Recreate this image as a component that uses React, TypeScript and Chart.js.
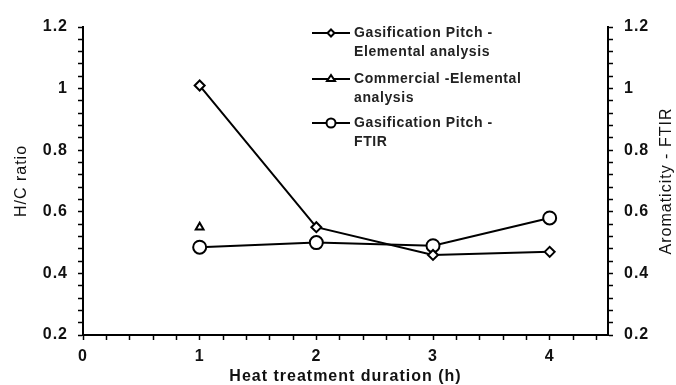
import React, { useEffect, useRef } from "react";
import { Chart, registerables } from "chart.js";

Chart.register(...registerables);

// ---- data ----
const hours = [1, 2, 3, 4];
const pitchElemental = [1.01, 0.55, 0.46, 0.47];
const commercialHours = [1];
const commercialElemental = [0.55];
const pitchFTIR = [0.485, 0.5, 0.49, 0.58];
const seriesLabels = [
  ["Gasification Pitch -", "Elemental analysis"],
  ["Commercial -Elemental", "analysis"],
  ["Gasification Pitch -", "FTIR"],
];
const xTitle = "Heat treatment duration (h)";
const yLeftTitle = "H/C ratio";
const yRightTitle = "Aromaticity - FTIR";

const FONT = "'Liberation Sans', Arial, sans-serif";
const INK = "#111";

function drawMarker(ctx: CanvasRenderingContext2D, style: string, x: number, y: number, r: number) {
  ctx.beginPath();
  if (style === "rectRot") {
    ctx.moveTo(x, y - r);
    ctx.lineTo(x + r, y);
    ctx.lineTo(x, y + r);
    ctx.lineTo(x - r, y);
    ctx.closePath();
  } else if (style === "triangle") {
    const h = r * 1.5;
    ctx.moveTo(x, y - h * 0.66);
    ctx.lineTo(x + r, y + h * 0.34);
    ctx.lineTo(x - r, y + h * 0.34);
    ctx.closePath();
  } else {
    ctx.arc(x, y, r, 0, Math.PI * 2);
  }
  ctx.fillStyle = "#fff";
  ctx.fill();
  ctx.stroke();
}

const customPlugin = {
  id: "custom",
  beforeDraw(chart: any) {
    (chart.ctx as any).letterSpacing = "1px";
  },
  afterDraw(chart: any) {
    const ctx: CanvasRenderingContext2D = chart.ctx;
    ctx.save();
    (ctx as any).letterSpacing = "1px";
    // right axis title (reads bottom to top)
    const area = chart.chartArea;
    ctx.translate(667, (area.top + area.bottom) / 2);
    ctx.rotate(-Math.PI / 2);
    ctx.font = `16px ${FONT}`;
    ctx.fillStyle = INK;
    ctx.textAlign = "center";
    ctx.textBaseline = "middle";
    ctx.fillText(yRightTitle, 0, 0);
    ctx.restore();

    // legend
    ctx.save();
    (ctx as any).letterSpacing = "0.6px";
    const rows = [33, 79, 123];
    const styles = ["rectRot", "triangle", "circle"];
    const radii = [3.5, 4, 4.5];
    chart.data.datasets.forEach((ds: any, i: number) => {
      const y = rows[i];
      ctx.strokeStyle = "#000";
      ctx.lineWidth = 2;
      ctx.beginPath();
      ctx.moveTo(312, y);
      ctx.lineTo(350, y);
      ctx.stroke();
      drawMarker(ctx, styles[i], 331, y, radii[i]);
      ctx.font = `bold 14px ${FONT}`;
      ctx.fillStyle = "#222";
      ctx.textAlign = "left";
      ctx.textBaseline = "middle";
      seriesLabels[i].forEach((line, k) => {
        ctx.fillText(line, 354, y + k * 19);
      });
    });
    ctx.restore();
  },
};

const tickFont = { family: FONT, size: 16, weight: "bold" as const };

function yAxis(position: "left" | "right", width: number, pad: number) {
  return {
    type: "linear" as const,
    position,
    min: 0.2,
    max: 1.2,
    afterFit: (s: any) => {
      s.width = width;
    },
    border: { display: true, color: "#000", width: 2 },
    grid: {
      drawOnChartArea: false,
      drawTicks: true,
      tickLength: 5,
      tickColor: "#000",
      tickWidth: 1.5,
    },
    ticks: {
      stepSize: 0.04,
      autoSkip: false,
      padding: pad,
      color: INK,
      font: tickFont,
      callback: (v: any) => {
        const n = Number(v);
        if (Math.abs(n * 5 - Math.round(n * 5)) < 1e-6) return String(Math.round(n * 10) / 10);
        return "";
      },
    },
  };
}

export default function App() {
  const ref = useRef<HTMLCanvasElement | null>(null);
  useEffect(() => {
    if (!ref.current) return;
    const chart = new Chart(ref.current, {
      type: "line",
      data: {
        datasets: [
          {
            label: seriesLabels[0].join(" "),
            data: hours.map((h, i) => ({ x: h, y: pitchElemental[i] })),
            yAxisID: "y",
            borderColor: "#000",
            borderWidth: 2,
            pointStyle: "rectRot",
            pointRadius: 5,
            pointBorderWidth: 2,
            pointBackgroundColor: "#fff",
            pointBorderColor: "#000",
            tension: 0,
          },
          {
            label: seriesLabels[1].join(" "),
            data: commercialHours.map((h, i) => ({ x: h, y: commercialElemental[i] })),
            yAxisID: "y",
            showLine: false,
            borderColor: "#000",
            pointStyle: "triangle",
            pointRadius: 4.5,
            pointBorderWidth: 2,
            pointBackgroundColor: "#fff",
            pointBorderColor: "#000",
          },
          {
            label: seriesLabels[2].join(" "),
            data: hours.map((h, i) => ({ x: h, y: pitchFTIR[i] })),
            yAxisID: "y2",
            borderColor: "#000",
            borderWidth: 2,
            pointStyle: "circle",
            pointRadius: 6.5,
            pointBorderWidth: 2,
            pointBackgroundColor: "#fff",
            pointBorderColor: "#000",
            tension: 0,
          },
        ],
      },
      options: {
        responsive: false,
        animation: false,
        layout: { padding: { top: 27, left: 0, right: 0, bottom: 0 } },
        plugins: { legend: { display: false }, tooltip: { enabled: false } },
        scales: {
          x: {
            type: "linear",
            min: 0,
            max: 4.5,
            afterFit: (s: any) => {
              s.height = 50;
            },
            border: { display: true, color: "#000", width: 2 },
            grid: {
              drawOnChartArea: false,
              drawTicks: true,
              tickLength: 5,
              tickColor: "#000",
              tickWidth: 1.5,
            },
            ticks: {
              stepSize: 0.2,
              includeBounds: false,
              autoSkip: false,
              maxRotation: 0,
              padding: 7,
              color: INK,
              font: tickFont,
              callback: (v: any) => {
                const n = Number(v);
                if (Math.abs(n - Math.round(n)) < 1e-6) return String(Math.round(n));
                return "";
              },
            },
            title: {
              display: true,
              text: xTitle,
              color: INK,
              font: { family: FONT, size: 16, weight: "bold", lineHeight: 1 },
              padding: { top: 0, bottom: 0 },
            },
          },
          y: {
            ...yAxis("left", 83, 10),
            title: {
              display: true,
              text: yLeftTitle,
              color: INK,
              font: { family: FONT, size: 16, lineHeight: 1 },
              padding: { top: 14, bottom: 0 },
            },
          },
          y2: yAxis("right", 68, 11),
        },
      },
      plugins: [customPlugin],
    } as any);
    return () => chart.destroy();
  }, []);
  return (
    <canvas
      ref={ref}
      width={676}
      height={385}
      style={{ position: "absolute", left: 0, top: 0, width: 676, height: 385 }}
    />
  );
}
